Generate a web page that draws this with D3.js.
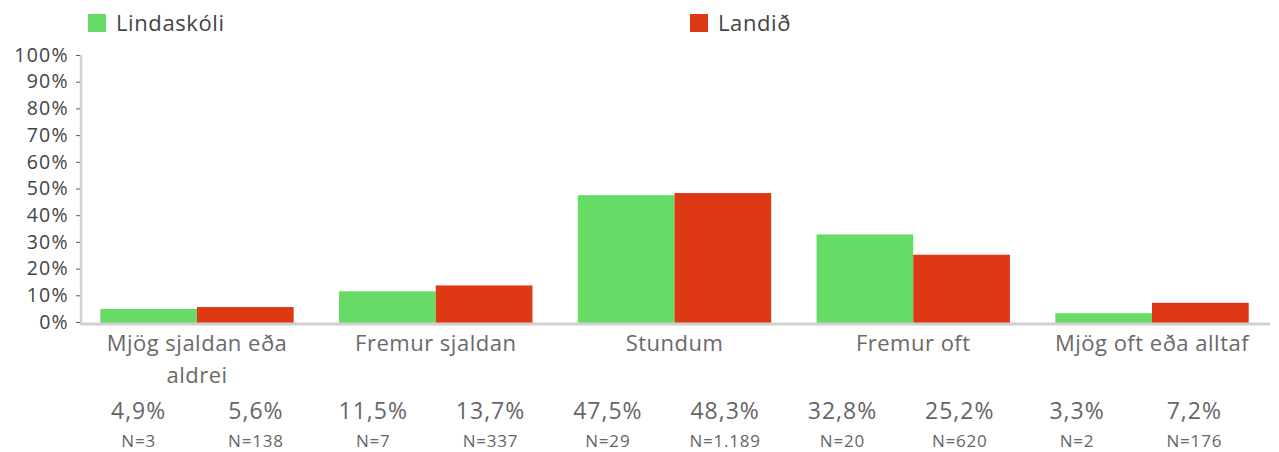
<!DOCTYPE html>
<html>
<head>
<meta charset="utf-8">
<script src="https://cdn.jsdelivr.net/npm/d3@7"></script>
<style>
  body { margin: 0; background: #fff; }
  svg { display: block; font-family: "Open Sans", sans-serif; }
</style>
</head>
<body>
<div id="app"></div>
<script>
// data
const categories = ["Mjög sjaldan eða aldrei", "Fremur sjaldan", "Stundum", "Fremur oft", "Mjög oft eða alltaf"];
const seriesNames = ["Lindaskóli", "Landið"];
const lindaskoli = [4.9, 11.5, 47.5, 32.8, 3.3];
const landid = [5.6, 13.7, 48.3, 25.2, 7.2];
const nLindaskoli = ["3", "7", "29", "20", "2"];
const nLandid = ["138", "337", "1.189", "620", "176"];
const yTicks = [0, 10, 20, 30, 40, 50, 60, 70, 80, 90, 100];
const colors = ["#66dc66", "#dd3914"];

const width = 1279, height = 452;
const margin = { top: 55, right: 10, bottom: 129, left: 80 };

const svg = d3.select("#app")
    .append("svg")
    .attr("width", width)
    .attr("height", height);

const x = d3.scaleBand()
    .domain(categories)
    .range([margin.left, width - margin.right])
    .paddingInner(0.19)
    .paddingOuter(0.085);

const xs = d3.scaleBand()
    .domain(seriesNames)
    .range([0, x.bandwidth()]);

const y = d3.scaleLinear()
    .domain([0, 100])
    .range([height - margin.bottom - 1, margin.top]);

const fmt = (v) => v.toFixed(1).replace(".", ",") + "%";

// y axis
const yAxis = svg.append("g")
    .attr("transform", `translate(${margin.left + 1},0)`)
    .call(d3.axisLeft(y).tickValues(yTicks).tickSize(5).tickPadding(7).tickFormat((d) => d + "%"));
yAxis.select(".domain").remove();
yAxis.attr("font-family", null).attr("font-size", null);
yAxis.selectAll(".tick line").attr("stroke", "#555");
yAxis.selectAll(".tick text")
    .attr("fill", "#444")
    .style("font-size", "19.5px")
    .style("letter-spacing", "1.3px");

svg.append("line")
    .attr("x1", margin.left + 1).attr("x2", margin.left + 1)
    .attr("y1", y(100)).attr("y2", y(0) + 3)
    .attr("stroke", "#cfcfcf").attr("stroke-width", 2.5);

// bars
const rows = categories.map((c, i) => ({ cat: c, vals: [lindaskoli[i], landid[i]] }));
const groups = svg.selectAll(".grp")
    .data(rows)
    .enter()
    .append("g")
    .attr("class", "grp")
    .attr("transform", (d) => `translate(${x(d.cat)},0)`);

groups.selectAll("rect")
    .data((d) => d.vals.map((v, j) => ({ v, s: seriesNames[j], j })))
    .enter()
    .append("rect")
    .attr("x", (d) => xs(d.s))
    .attr("width", xs.bandwidth())
    .attr("y", (d) => y(d.v))
    .attr("height", (d) => y(0) + 2 - y(d.v))
    .attr("fill", (d) => colors[d.j]);

// baseline
svg.append("line")
    .attr("x1", margin.left + 1).attr("x2", width - margin.right + 1)
    .attr("y1", y(0) + 2).attr("y2", y(0) + 2)
    .attr("stroke", "#cfcfcf").attr("stroke-width", 3);

// category labels (wrapped)
const catLines = { "Mjög sjaldan eða aldrei": ["Mjög sjaldan eða", "aldrei"] };
svg.selectAll(".cat")
    .data(categories)
    .enter()
    .append("text")
    .attr("class", "cat")
    .attr("x", (d) => x(d) + x.bandwidth() / 2)
    .attr("y", 351)
    .attr("text-anchor", "middle")
    .attr("fill", "#6a6a6a")
    .style("font-size", "22px")
    .style("letter-spacing", "0.5px")
    .each(function (d) {
        const lines = catLines[d] || [d];
        d3.select(this).selectAll("tspan")
            .data(lines)
            .enter()
            .append("tspan")
            .attr("x", x(d) + x.bandwidth() / 2)
            .attr("dy", (l, k) => (k === 0 ? 0 : 32))
            .text((l) => l);
    });

// value table under the chart
const cells = [];
categories.forEach((c, i) => {
    cells.push({ key: c + "|0", v: lindaskoli[i], n: nLindaskoli[i] });
    cells.push({ key: c + "|1", v: landid[i], n: nLandid[i] });
});
const col = d3.scaleBand()
    .domain(cells.map((d) => d.key))
    .range([80, 1253]);

svg.selectAll(".pct")
    .data(cells)
    .enter()
    .append("text")
    .attr("x", (d) => col(d.key) + col.bandwidth() / 2)
    .attr("y", 419)
    .attr("text-anchor", "middle")
    .attr("fill", "#666")
    .style("font-size", "23px")
    .style("letter-spacing", "1px")
    .text((d) => fmt(d.v));

svg.selectAll(".nval")
    .data(cells)
    .enter()
    .append("text")
    .attr("x", (d) => col(d.key) + col.bandwidth() / 2)
    .attr("y", 447)
    .attr("text-anchor", "middle")
    .attr("fill", "#666")
    .style("font-size", "17px")
    .style("letter-spacing", "0.8px")
    .text((d) => "N=" + d.n);

// legend
const legendX = [88, 690];
const legend = svg.selectAll(".leg")
    .data(seriesNames)
    .enter()
    .append("g")
    .attr("transform", (d, i) => `translate(${legendX[i]},14)`);
legend.append("rect")
    .attr("width", 18).attr("height", 18)
    .attr("fill", (d, i) => colors[i]);
legend.append("text")
    .attr("x", 28).attr("y", 9)
    .attr("dy", "0.35em")
    .attr("fill", "#444")
    .style("font-size", "22px")
    .style("letter-spacing", "0.6px")
    .text((d) => d);
</script>
</body>
</html>
